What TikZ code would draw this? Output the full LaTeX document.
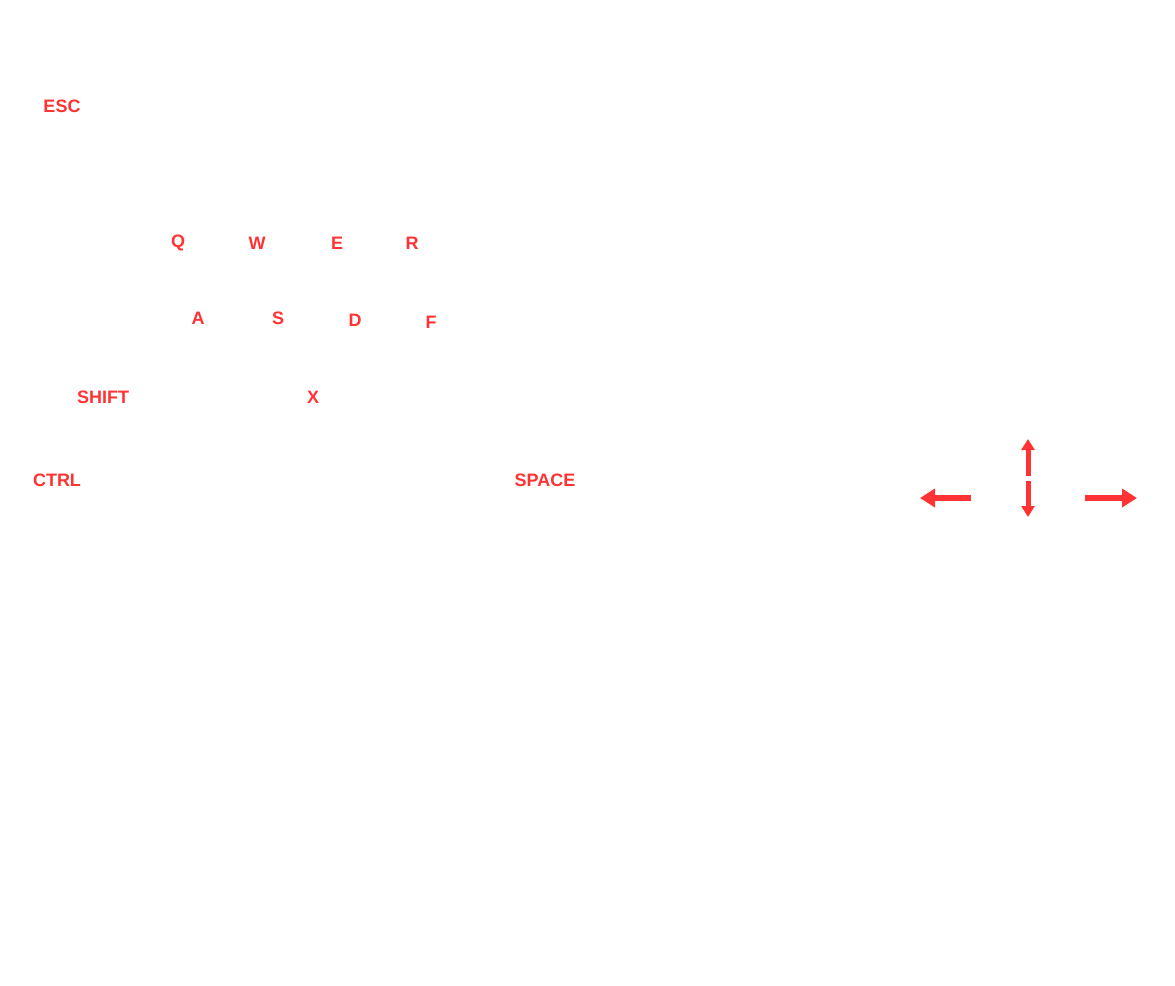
\documentclass[tikz,border=0pt]{standalone}
\usepackage{fontspec}
\setmainfont{Liberation Sans}
\usetikzlibrary{arrows.meta}
\definecolor{keyred}{RGB}{255,51,51}
\begin{document}
\begin{tikzpicture}[x=1pt,y=-1pt,
  keylabel/.style={text=keyred,font=\fontsize{18}{20}\selectfont\bfseries,inner sep=0pt,anchor=center},
  bigarrow/.style={draw=keyred,line width=6pt,-{Triangle[length=15pt,width=18pt]}},
  smallarrow/.style={draw=keyred,line width=5pt,-{Triangle[length=11pt,width=13pt]}}]
\useasboundingbox[fill=white] (0,0) rectangle (1175,985);
\node[keylabel] (esc) at (62,106) {ESC};
\node[keylabel] (q) at (178,243) {Q};
\node[keylabel] (w) at (257,243) {W};
\node[keylabel] (e) at (337,243) {E};
\node[keylabel] (r) at (412,243) {R};
\node[keylabel] (a) at (198,318) {A};
\node[keylabel] (s) at (278,318) {S};
\node[keylabel] (d) at (355,320) {D};
\node[keylabel] (f) at (431,322) {F};
\node[keylabel] (shift) at (103,397) {SHIFT};
\node[keylabel] (x) at (313,397) {X};
\node[keylabel] (ctrl) at (57,480) {CTRL};
\node[keylabel] (space) at (545,480) {SPACE};
\coordinate (lfrom) at (971,498);
\coordinate (lto) at (920,498);
\coordinate (rfrom) at (1085,498);
\coordinate (rto) at (1137,498);
\coordinate (ufrom) at (1028,476);
\coordinate (uto) at (1028,439);
\coordinate (dfrom) at (1028,481);
\coordinate (dto) at (1028,517);
\draw[bigarrow] (lfrom) -- (lto);
\draw[bigarrow] (rfrom) -- (rto);
\draw[smallarrow] (ufrom) -- (uto);
\draw[smallarrow] (dfrom) -- (dto);
\end{tikzpicture}
\end{document}
